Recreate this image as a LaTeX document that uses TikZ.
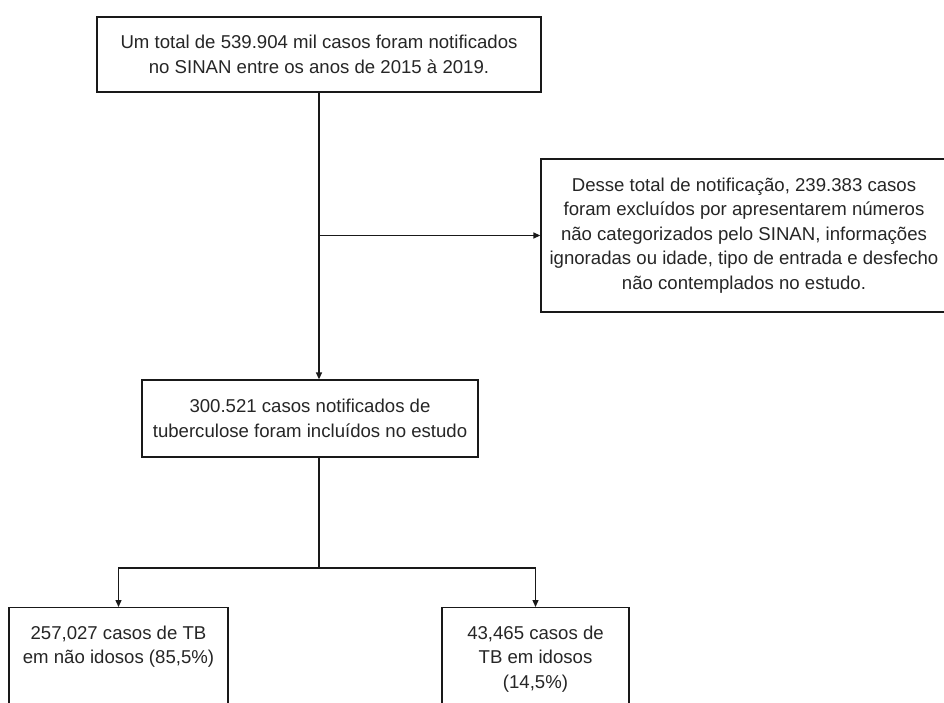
\documentclass[tikz,border=0pt]{standalone}
\usepackage{fontspec}
\setmainfont{Liberation Sans}
\usetikzlibrary{arrows.meta}
\begin{document}
\begin{tikzpicture}[x=1pt,y=-1pt,
  box/.style={draw=black!90, line width=1.3pt, align=center, inner sep=0pt,
    font=\fontsize{18.6}{24.5}\selectfont, text=black!85},
  conn/.style={draw=black!90, line width=1.3pt},
  arr/.style={conn, -{Triangle[length=7pt,width=6pt]}}]
\useasboundingbox[fill=white] (0,0) rectangle (944,702);
\node[box, minimum width=444pt, minimum height=75pt] (top) at (319,54.5)
  {Um total de 539.904 mil casos foram notificados\\no SINAN entre os anos de 2015 à 2019.};
\node[box, minimum width=406pt, minimum height=153pt] (excl) at (744,235.5)
  {Desse total de notificação, 239.383 casos\\foram excluídos por apresentarem números\\não categorizados pelo SINAN, informações\\ignoradas ou idade, tipo de entrada e desfecho\\não contemplados no estudo.};
\node[box, minimum width=336pt, minimum height=77pt] (mid) at (310,418.5)
  {300.521 casos notificados de\\tuberculose foram incluídos no estudo};
\node[box, anchor=north] (left) at (118.5,607)
  {\parbox[t][120pt][t]{219pt}{\centering\vspace{18pt}257,027 casos de TB\\em não idosos (85,5\%)}};
\node[box, anchor=north] (right) at (535.5,607)
  {\parbox[t][120pt][t]{187pt}{\centering\vspace{18pt}43,465 casos de\\TB em idosos\\(14,5\%)}};
\coordinate (fork) at (319,568);
\draw[arr] (top.south) -- (top.south |- mid.north);
\draw[arr] (top.south |- excl.west) -- (excl.west);
\draw[conn] (top.south |- mid.south) -- (fork);
\draw[arr] (fork) -| (left.north);
\draw[arr] (fork) -| (right.north);
\end{tikzpicture}
\end{document}
